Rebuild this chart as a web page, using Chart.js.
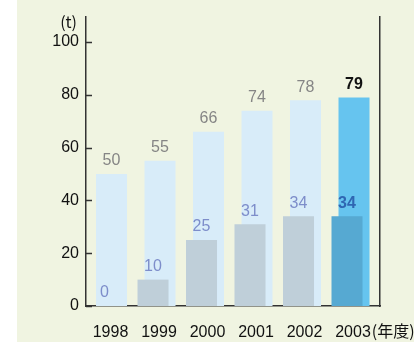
<!DOCTYPE html>
<html>
<head>
<meta charset="utf-8">
<script src="https://cdn.jsdelivr.net/npm/chart.js@4/dist/chart.umd.min.js"></script>
<style>
  html, body { margin: 0; padding: 0; }
  body {
    width: 414px; height: 342px; overflow: hidden;
    background: linear-gradient(to right, #ffffff 17px, #f0f4e1 17px);
  }
  #wrap { position: relative; width: 414px; height: 342px; }
</style>
</head>
<body>
<div id="wrap"><canvas id="bar-chart"></canvas></div>
<script>
const years = [1998, 1999, 2000, 2001, 2002, 2003];
const totalValues = [50, 55, 66, 74, 78, 79];
const partValues = [0, 10, 25, 31, 34, 34];
const yTicks = [0, 20, 40, 60, 80, 100];
const yUnit = "(t)";
const xUnit = "(年度)";

const FONT = "'Liberation Sans', Arial, sans-serif";
const CJK = "'Noto Sans CJK JP', " + FONT;
const AXIS = "#333333";
const last = years.length - 1;

const valueLabels = {
  id: "valueLabels",
  afterDatasetsDraw(chart) {
    const ctx = chart.ctx;
    ctx.save();
    ctx.textAlign = "center";
    ctx.textBaseline = "middle";
    chart.data.datasets.forEach((ds, di) => {
      const meta = chart.getDatasetMeta(di);
      meta.data.forEach((bar, i) => {
        const hi = i === last;
        ctx.font = (hi ? "bold " : "") + "16px " + FONT;
        ctx.fillStyle = hi ? ds.labelHighlight : ds.labelColor;
        ctx.fillText(String(ds.data[i].y), bar.x, bar.y - 13);
      });
    });
    ctx.restore();
  }
};

const axisExtras = {
  id: "axisExtras",
  afterDraw(chart) {
    const ctx = chart.ctx;
    const { left, top } = chart.chartArea;
    const y = chart.scales.y;
    const x = chart.scales.x;
    ctx.save();
    // tick marks point inward, not out
    ctx.strokeStyle = AXIS;
    ctx.lineWidth = 1.5;
    yTicks.forEach(v => {
      const py = Math.round(y.getPixelForValue(v)) + 0.5;
      ctx.beginPath();
      ctx.moveTo(left, py);
      ctx.lineTo(left + 6, py);
      ctx.stroke();
    });
    // units
    ctx.fillStyle = "#111111";
    ctx.textBaseline = "middle";
    ctx.font = "16px " + CJK;
    ctx.textAlign = "right";
    ctx.fillText(yUnit, left - 9, top + 5);
    ctx.textAlign = "left";
    ctx.font = "16px " + FONT;
    const lastPx = x.getPixelForValue(years[last]) + 2.5;
    const w = ctx.measureText(String(years[last])).width;
    ctx.font = "16px " + CJK;
    ctx.fillText(xUnit, lastPx + w / 2 + 1, x.top + 25);
    ctx.restore();
  }
};

const ctx = document.getElementById("bar-chart").getContext("2d");
new Chart(ctx, {
  type: "bar",
  data: {
    datasets: [
      {
        label: "part",
        data: partValues.map((v, i) => ({ x: years[i], y: v })),
        backgroundColor: c => c.dataIndex === last ? "#56a9d2" : "#bfcfd9",
        labelColor: "#7d8dca",
        labelHighlight: "#2f66b2",
      },
      {
        label: "total",
        data: totalValues.map((v, i) => ({ x: years[i], y: v })),
        backgroundColor: c => c.dataIndex === last ? "#66c4ef" : "#d8ecf9",
        labelColor: "#858585",
        labelHighlight: "#111111",
      },
    ],
  },
  options: {
    responsive: true,
    maintainAspectRatio: false,
    animation: false,
    categoryPercentage: 0.2887,
    barPercentage: 4.43,
    layout: { padding: { left: 0, right: 34, top: 17, bottom: 0 } },
    plugins: {
      legend: { display: false },
      tooltip: { enabled: false },
    },
    scales: {
      x: {
        type: "linear",
        offset: false,
        min: 1997.546,
        max: 2003.608,
        afterBuildTicks: s => { s.ticks = years.map(v => ({ value: v })); },
        afterFit: s => { s.height = 36; },
        grid: { display: false, drawTicks: false, offset: false },
        border: { display: true, color: AXIS, width: 1.5 },
        ticks: {
          autoSkip: false,
          maxRotation: 0,
          padding: 17,
          labelOffset: 2.5,
          color: "#111111",
          font: { size: 16, family: FONT },
          callback: v => String(v),
        },
      },
      y: {
        min: 0,
        max: 109.5,
        afterBuildTicks: s => { s.ticks = yTicks.map(v => ({ value: v })); },
        afterFit: s => { s.width = 86; },
        grid: { display: false, drawTicks: false },
        border: { display: true, color: AXIS, width: 1.5 },
        ticks: {
          padding: 7,
          color: "#111111",
          font: { size: 16, family: FONT },
        },
      },
      y2: {
        position: "right",
        afterFit: s => { s.width = 0; },
        grid: { display: false, drawTicks: false },
        border: { display: true, color: AXIS, width: 1.5 },
        ticks: { display: false },
      },
    },
  },
  plugins: [valueLabels, axisExtras],
});
</script>
</body>
</html>
